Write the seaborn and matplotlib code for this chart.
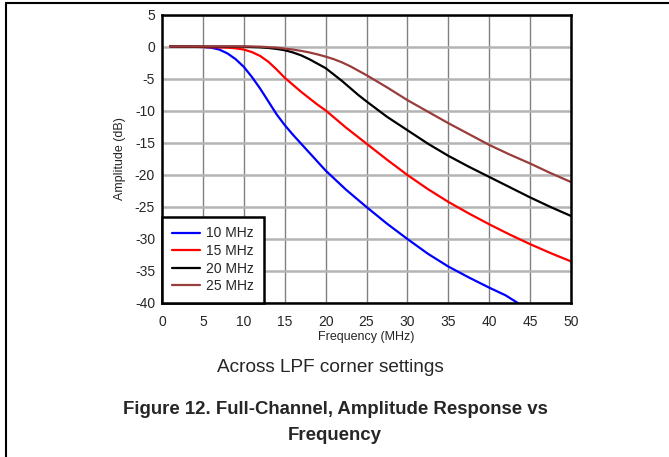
import matplotlib
matplotlib.use("Agg")
import matplotlib.pyplot as plt
from matplotlib.lines import Line2D
import seaborn as sns
import pandas as pd

# Data (frequency in MHz, amplitude in dB)
freq_10 = [1, 3, 5, 6, 7, 8, 9, 10, 11, 12, 13, 14, 15, 16, 17, 18, 19, 20,
           22.5, 25, 27.5, 30, 32.5, 35, 37.5, 40, 42, 43.5]
amp_10 = [0.1, 0.05, 0.0, -0.1, -0.4, -1.0, -1.9, -3.1, -4.7, -6.5, -8.5, -10.5,
          -12.2, -13.7, -15.1, -16.5, -17.9, -19.3, -22.3, -25.0, -27.6, -30.0,
          -32.3, -34.3, -36.0, -37.6, -38.8, -40.0]

freq_15 = [1, 5, 8, 9, 10, 11, 12, 13, 14, 15, 16, 17, 18, 19, 20,
           22.5, 25, 27.5, 30, 32.5, 35, 37.5, 40, 42.5, 45, 47.5, 50]
amp_15 = [0.1, 0.0, -0.1, -0.2, -0.4, -0.8, -1.4, -2.3, -3.5, -4.8, -5.9, -7.0,
          -8.0, -9.0, -9.9, -12.6, -15.1, -17.6, -20.0, -22.2, -24.2, -26.0,
          -27.7, -29.3, -30.8, -32.2, -33.5]

freq_20 = [1, 10, 12, 13, 14, 15, 16, 17, 18, 19, 20, 21, 22, 23, 24, 25,
           27.5, 30, 32.5, 35, 37.5, 40, 42.5, 45, 47.5, 50]
amp_20 = [0.1, 0.05, -0.05, -0.15, -0.3, -0.5, -0.85, -1.3, -1.9, -2.6, -3.3,
          -4.3, -5.3, -6.4, -7.5, -8.5, -10.9, -13.0, -15.1, -17.0, -18.7,
          -20.3, -21.9, -23.5, -25.0, -26.4]

freq_25 = [1, 10, 12, 14, 15, 16, 17, 18, 19, 20, 21, 22, 23, 24, 25,
           27.5, 30, 32.5, 35, 37.5, 40, 42.5, 45, 47.5, 50]
amp_25 = [0.1, 0.1, 0.05, -0.1, -0.25, -0.4, -0.6, -0.85, -1.15, -1.5, -1.9,
          -2.4, -3.0, -3.7, -4.4, -6.3, -8.3, -10.1, -11.9, -13.6, -15.3,
          -16.8, -18.2, -19.7, -21.1]

labels = ["10 MHz", "15 MHz", "20 MHz", "25 MHz"]
colors = ["#0000ff", "#ff0000", "#000000", "#993c3c"]

frames = []
for lab, fx, fy in zip(labels, [freq_10, freq_15, freq_20, freq_25],
                       [amp_10, amp_15, amp_20, amp_25]):
    frames.append(pd.DataFrame({"freq": fx, "amp": fy, "setting": lab}))
df = pd.concat(frames, ignore_index=True)

sns.set_style("white")
plt.rcParams["font.family"] = ["Liberation Sans", "DejaVu Sans"]
plt.rcParams["axes.unicode_minus"] = False

fig = plt.figure(figsize=(6.69, 4.57), dpi=100)
ax = fig.add_axes([162 / 669, 1 - 303 / 457, 409 / 669, 288 / 457])

sns.lineplot(data=df, x="freq", y="amp", hue="setting",
             palette=dict(zip(labels, colors)), sort=False,
             linewidth=1.6, ax=ax)

ax.set_xlim(0, 50)
ax.set_ylim(-40, 5)
ax.set_xticks(range(0, 51, 5))
ax.set_yticks(range(-40, 6, 5))
ax.set_axisbelow(True)
ax.xaxis.grid(True, color="#808080", linewidth=1.0)
ax.yaxis.grid(True, color="#b4b4b4", linewidth=1.8)
for sp in ax.spines.values():
    sp.set_visible(True)
    sp.set_color("black")
    sp.set_linewidth(1.8)
ax.tick_params(axis="x", length=0, labelsize=10, pad=9)
ax.tick_params(axis="y", length=0, labelsize=10, pad=5)

ax.set_xlabel("Frequency (MHz)", fontsize=9, labelpad=1)
ax.set_ylabel("Amplitude (dB)", fontsize=9)
ax.yaxis.set_label_coords(-0.088, 0.5)

handles, labs = ax.get_legend_handles_labels()
leg = ax.legend(handles, labs, loc="lower left", borderaxespad=0,
                fancybox=False, edgecolor="black", framealpha=1,
                fontsize=10, handlelength=2.0, handletextpad=0.5,
                labelspacing=0.26, borderpad=0.7)
leg.get_frame().set_linewidth(1.8)

fig.text(330 / 669, 1 - 371.7 / 457, "Across LPF corner settings",
         ha="center", va="baseline", fontsize=13.7)
fig.text(335 / 669, 1 - 414.5 / 457,
         "Figure 12. Full-Channel, Amplitude Response vs",
         ha="center", va="baseline", fontsize=13.4, fontweight="bold")
fig.text(335 / 669, 1 - 440 / 457, "Frequency",
         ha="center", va="baseline", fontsize=13.4, fontweight="bold")

# page frame lines (left and top)
fig.add_artist(Line2D([6 / 669, 6 / 669], [0, 1 - 3 / 457],
                      transform=fig.transFigure, color="black", linewidth=1.5))
fig.add_artist(Line2D([6 / 669, 1], [1 - 3 / 457, 1 - 3 / 457],
                      transform=fig.transFigure, color="black", linewidth=1.5))

fig.savefig("out.png", dpi=100)
